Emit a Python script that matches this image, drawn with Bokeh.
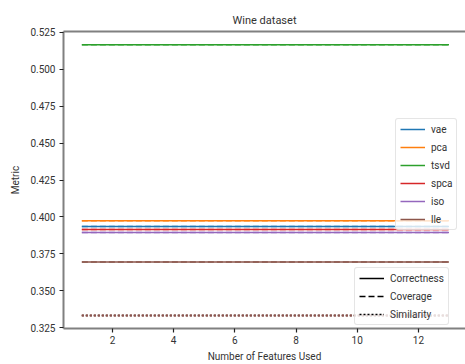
from bokeh.plotting import figure
from bokeh.models import Legend, LegendItem, LinearAxis, Range1d, FixedTicker, ColumnDataSource, CustomJSTickFormatter
from bokeh.embed import file_html
from bokeh.resources import INLINE

# ---- data ----
n_features = list(range(1, 14))
methods = ["vae", "pca", "tsvd", "spca", "iso", "lle"]
colors = ["#1f77b4", "#ff7f0e", "#2ca02c", "#d62728", "#9467bd", "#8c564b"]
correctness = [0.3935, 0.3975, 0.5165, 0.3915, 0.3895, 0.3695]
coverage = [0.3935, 0.3975, 0.5165, 0.3915, 0.3895, 0.3695]
similarity = [0.3333, 0.3333, 0.3333, 0.3333, 0.3333, 0.3333]
x_ticks = [2, 4, 6, 8, 10, 12]
y_ticks = [0.325, 0.350, 0.375, 0.400, 0.425, 0.450, 0.475, 0.500, 0.525]
style_labels = ["Correctness", "Coverage", "Similarity"]

FONT = "Roboto"
SPINE = "#808080"

p = figure(width=465, height=364, output_backend="svg", toolbar_location=None,
           x_range=Range1d(0.4, 13.54), y_range=Range1d(0.3245, 0.5255),
           min_border_left=63, min_border_right=0, min_border_top=31, min_border_bottom=35)
p.title.text = "Wine dataset"
p.title.align = "center"
p.title.text_font = FONT
p.title.text_font_size = "11px"
p.title.text_font_style = "normal"
p.title.text_color = "#333333"
p.outline_line_color = None
p.grid.visible = False

legend_items = []
for m, c, cor, cov, sim in zip(methods, colors, correctness, coverage, similarity):
    src_cor = ColumnDataSource(dict(x=n_features, y=[cor] * len(n_features)))
    src_cov = ColumnDataSource(dict(x=n_features, y=[cov] * len(n_features)))
    src_sim = ColumnDataSource(dict(x=n_features, y=[sim] * len(n_features)))
    r1 = p.line("x", "y", source=src_cor, line_color=c, line_width=1.5)
    r2 = p.line("x", "y", source=src_cov, line_color=c, line_width=1.5, line_dash="6 3", line_alpha=0.9)
    r3 = p.line("x", "y", source=src_sim, line_color=c, line_width=1.5, line_dash="2 2")
    legend_items.append(LegendItem(label=m, renderers=[r1]))

# style-key dummies (NaN data: nothing drawn in the plot, only in the legend)
nan_src = ColumnDataSource(dict(x=n_features, y=[float("nan")] * len(n_features)))
d1 = p.line("x", "y", source=nan_src, line_color="black", line_width=1.5)
d2 = p.line("x", "y", source=nan_src, line_color="black", line_width=1.5, line_dash="6 3")
d3 = p.line("x", "y", source=nan_src, line_color="black", line_width=1.5, line_dash="2 2")

def style_legend(lg):
    lg.label_text_font = FONT
    lg.label_text_font_size = "10px"
    lg.label_text_color = "#333333"
    lg.glyph_width = 25
    lg.glyph_height = 12
    lg.label_height = 12
    lg.spacing = 6
    lg.padding = 4
    lg.margin = 0
    lg.label_standoff = 6
    lg.border_line_color = "#cccccc"
    lg.border_line_width = 1
    lg.border_radius = 3
    lg.background_fill_alpha = 0.8

leg1 = Legend(items=legend_items, location=(332, 98))
style_legend(leg1)
leg2 = Legend(items=[LegendItem(label=l, renderers=[r]) for l, r in zip(style_labels, [d1, d2, d3])],
              location=(291, 3))
style_legend(leg2)
p.add_layout(leg1, "center")
p.add_layout(leg2, "center")

for ax in (p.xaxis[0], p.yaxis[0]):
    ax.axis_line_color = SPINE
    ax.axis_line_width = 2
    ax.major_tick_line_color = "#222222"
    ax.major_tick_line_width = 1.2
    ax.major_tick_out = 4
    ax.major_tick_in = 0
    ax.minor_tick_line_color = None
    ax.major_label_text_font = FONT
    ax.major_label_text_font_size = "10px"
    ax.major_label_text_color = "#333333"
    ax.axis_label_text_font = FONT
    ax.axis_label_text_font_size = "10px"
    ax.axis_label_text_font_style = "normal"
    ax.axis_label_text_color = "#333333"

p.xaxis[0].ticker = FixedTicker(ticks=x_ticks)
p.yaxis[0].ticker = FixedTicker(ticks=y_ticks)
p.yaxis[0].formatter = CustomJSTickFormatter(code="return tick.toFixed(3);")
p.xaxis[0].axis_label = "Number of Features Used"
p.yaxis[0].axis_label = "Metric"
p.xaxis[0].axis_label_standoff = 4
p.yaxis[0].axis_label_standoff = 6
p.xaxis[0].major_label_standoff = 3
p.yaxis[0].major_label_standoff = 4

top = LinearAxis(axis_line_color=SPINE, axis_line_width=2, major_tick_line_color=None,
                 minor_tick_line_color=None, major_label_text_font_size="0px")
top.ticker = FixedTicker(ticks=[])
p.add_layout(top, "above")

open("out.html", "w").write(file_html(p, INLINE))
